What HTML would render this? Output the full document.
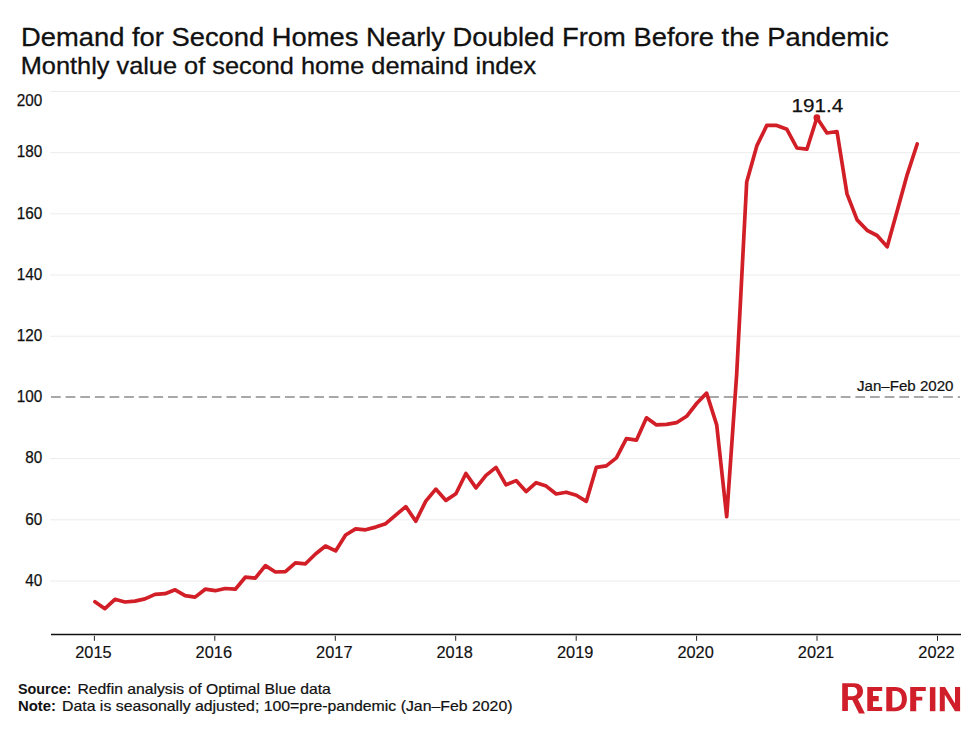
<!DOCTYPE html>
<html><head><meta charset="utf-8"><style>
html,body{margin:0;padding:0;background:#fff;width:974px;height:729px;overflow:hidden}
svg{position:absolute;left:0;top:0;font-family:"Liberation Sans",sans-serif}
</style></head><body>
<svg width="974" height="729" viewBox="0 0 974 729">
<rect width="974" height="729" fill="#fff"/>
<g stroke="#ececec" stroke-width="1"><line x1="50" x2="960" y1="91.46" y2="91.46"/><line x1="50" x2="960" y1="152.66" y2="152.66"/><line x1="50" x2="960" y1="213.85" y2="213.85"/><line x1="50" x2="960" y1="275.04" y2="275.04"/><line x1="50" x2="960" y1="336.23" y2="336.23"/><line x1="50" x2="960" y1="458.62" y2="458.62"/><line x1="50" x2="960" y1="519.81" y2="519.81"/><line x1="50" x2="960" y1="581.00" y2="581.00"/></g>
<line x1="51" x2="960" y1="397" y2="397" stroke="#a8a8a8" stroke-width="2" stroke-dasharray="9.75 4.875"/>
<g font-size="16" fill="#111" stroke="#111" stroke-width="0.25"><text x="16.8" y="106.1" textLength="25.5" lengthAdjust="spacingAndGlyphs">200</text><text x="16.8" y="157.4" textLength="25.5" lengthAdjust="spacingAndGlyphs">180</text><text x="16.8" y="218.6" textLength="25.5" lengthAdjust="spacingAndGlyphs">160</text><text x="16.8" y="279.8" textLength="25.5" lengthAdjust="spacingAndGlyphs">140</text><text x="16.8" y="341.0" textLength="25.5" lengthAdjust="spacingAndGlyphs">120</text><text x="16.8" y="402.1" textLength="25.5" lengthAdjust="spacingAndGlyphs">100</text><text x="25.3" y="463.3" textLength="17" lengthAdjust="spacingAndGlyphs">80</text><text x="25.3" y="524.5" textLength="17" lengthAdjust="spacingAndGlyphs">60</text><text x="25.3" y="585.7" textLength="17" lengthAdjust="spacingAndGlyphs">40</text></g>
<line x1="51" x2="961" y1="634.5" y2="634.5" stroke="#111" stroke-width="1.6"/>
<g stroke="#222" stroke-width="1"><line x1="94.4" x2="94.4" y1="635.8" y2="640.8"/><line x1="214.8" x2="214.8" y1="635.8" y2="640.8"/><line x1="335.3" x2="335.3" y1="635.8" y2="640.8"/><line x1="455.7" x2="455.7" y1="635.8" y2="640.8"/><line x1="576.2" x2="576.2" y1="635.8" y2="640.8"/><line x1="696.6" x2="696.6" y1="635.8" y2="640.8"/><line x1="817.0" x2="817.0" y1="635.8" y2="640.8"/><line x1="937.5" x2="937.5" y1="635.8" y2="640.8"/></g>
<g font-size="15.8" fill="#111" stroke="#111" stroke-width="0.15"><text x="75.2" y="657.7" textLength="36.4" lengthAdjust="spacingAndGlyphs">2015</text><text x="195.6" y="657.7" textLength="36.4" lengthAdjust="spacingAndGlyphs">2016</text><text x="316.1" y="657.7" textLength="36.4" lengthAdjust="spacingAndGlyphs">2017</text><text x="436.5" y="657.7" textLength="36.4" lengthAdjust="spacingAndGlyphs">2018</text><text x="557.0" y="657.7" textLength="36.4" lengthAdjust="spacingAndGlyphs">2019</text><text x="677.4" y="657.7" textLength="36.4" lengthAdjust="spacingAndGlyphs">2020</text><text x="797.8" y="657.7" textLength="36.4" lengthAdjust="spacingAndGlyphs">2021</text><text x="918.3" y="657.7" textLength="36.4" lengthAdjust="spacingAndGlyphs">2022</text></g>
<polyline points="94.9,601.7 104.9,608.7 114.9,599.3 124.9,602.0 135.0,601.1 145.0,598.9 155.0,594.4 165.1,593.7 175.1,589.8 185.1,595.6 195.1,597.1 205.2,589.2 215.2,590.7 225.2,588.5 235.3,589.2 245.3,577.2 255.3,578.1 265.4,565.6 275.4,572.0 285.4,571.7 295.4,562.9 305.5,563.8 315.5,554.0 325.5,546.0 335.6,550.9 345.6,535.0 355.6,528.9 365.6,529.8 375.7,527.1 385.7,523.7 395.7,515.1 405.8,506.6 415.8,521.2 425.8,501.1 435.8,489.1 445.9,500.4 455.9,493.7 465.9,473.5 476.0,487.9 486.0,475.4 496.0,467.4 506.0,484.8 516.1,480.6 526.1,491.6 536.1,482.7 546.2,486.1 556.2,494.0 566.2,492.2 576.3,495.2 586.3,501.4 596.3,467.4 606.3,465.9 616.4,457.9 626.4,438.6 636.4,440.2 646.5,417.8 656.5,424.9 666.5,424.3 676.5,422.7 686.6,416.3 696.6,403.5 706.6,393.1 716.7,424.9 726.7,516.7 736.7,373.8 746.7,182.0 756.8,145.9 766.8,125.4 776.8,125.4 786.9,129.3 796.9,148.0 806.9,149.2 816.9,117.7 827.0,133.0 837.0,131.5 847.0,193.9 857.1,219.9 867.1,230.3 877.1,235.5 887.2,246.8 897.2,210.7 907.2,174.6 917.2,144.0" fill="none" stroke="#d21e26" stroke-width="3.7" stroke-linejoin="round" stroke-linecap="round"/>
<circle cx="816.9" cy="117.7" r="3.4" fill="#d21e26"/>
<text x="21.0" y="46.3" font-size="26.3" fill="#111" stroke="#111" stroke-width="0.3" textLength="867.79" lengthAdjust="spacingAndGlyphs">Demand for Second Homes Nearly Doubled From Before the Pandemic</text>
<text x="20.75" y="74.4" font-size="24.0" fill="#111" stroke="#111" stroke-width="0.3" textLength="515.3" lengthAdjust="spacingAndGlyphs">Monthly value of second home demaind index</text>
<text x="18.0" y="693.9" font-size="14.5" font-weight="bold" fill="#111" textLength="53.4" lengthAdjust="spacingAndGlyphs">Source:</text>
<text x="77.5" y="693.9" font-size="14.5" fill="#111" stroke="#111" stroke-width="0.2" textLength="253.35" lengthAdjust="spacingAndGlyphs">Redfin analysis of Optimal Blue data</text>
<text x="18.0" y="710.8" font-size="14.5" font-weight="bold" fill="#111" textLength="38.06" lengthAdjust="spacingAndGlyphs">Note:</text>
<text x="62.0" y="710.8" font-size="14.5" fill="#111" stroke="#111" stroke-width="0.2" textLength="450.5" lengthAdjust="spacingAndGlyphs">Data is seasonally adjusted; 100=pre-pandemic (Jan–Feb 2020)</text>
<text x="857.0" y="390.7" font-size="14.2" fill="#111" stroke="#111" stroke-width="0.2" textLength="96.52" lengthAdjust="spacingAndGlyphs">Jan–Feb 2020</text>
<text x="791.5" y="112.3" font-size="18.6" fill="#111" stroke="#111" stroke-width="0.25" textLength="51.73" lengthAdjust="spacingAndGlyphs">191.4</text>
<g fill="#d01f2a">
<path fill-rule="evenodd" d="M842.2,683.2 H854.3 C859.8,683.2 863,686.3 863,691.3 C863,695.1 860.9,698 857.8,699.1 L864.9,713.6 H859 L852.3,700.1 H847.9 V711.1 H842.2 Z M847.9,686.9 V696.3 H852.6 C855.6,696.3 857.3,694.4 857.3,691.6 C857.3,688.8 855.6,686.9 852.6,686.9 Z"/>
<path d="M867.3,686.9 H882.2 V691 H873 V696.1 H878.7 V701.2 H873 V707 H882.2 V711.1 H867.3 Z"/>
<path fill-rule="evenodd" d="M886.3,687.1 H895 C902.5,687.1 906.9,691.5 906.9,699.1 C906.9,706.7 902.5,711.2 895,711.2 H886.3 Z M892.3,690.9 V707.4 H894.8 C899.2,707.4 901.9,704.8 901.9,699.1 C901.9,693.4 899.2,690.9 894.8,690.9 Z"/>
<path d="M910.2,687.1 H925.8 V690.9 H916.2 V696.7 H922.3 V700.5 H916.2 V711.2 H910.2 Z"/>
<path d="M929.9,687.1 H935.4 V711.2 H929.9 Z"/>
<path d="M939.8,687.1 H945 L955,703.5 V687.1 H960.1 V711.2 H955 L944.8,694.8 V711.2 H939.8 Z"/>
</g>
</svg>
</body></html>
